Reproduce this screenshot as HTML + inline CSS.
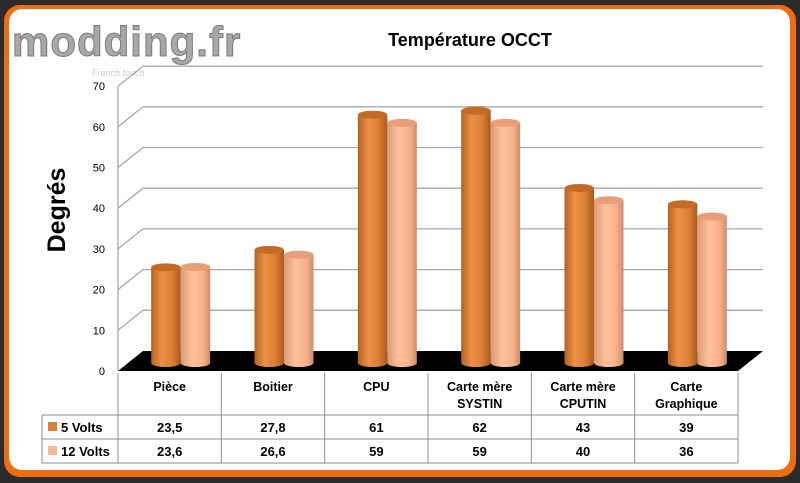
<!DOCTYPE html>
<html><head><meta charset="utf-8"><style>
html,body{margin:0;padding:0;background:#2b2b2b;}
svg{display:block;font-family:"Liberation Sans","DejaVu Sans",sans-serif;}
</style></head><body>
<svg id="c" width="800" height="483" viewBox="0 0 800 483" xmlns="http://www.w3.org/2000/svg">
<defs>
<linearGradient id="g5" x1="0" x2="1" y1="0" y2="0"><stop offset="0" stop-color="#b5621f"/><stop offset="0.35" stop-color="#ec9147"/><stop offset="0.7" stop-color="#dd7f35"/><stop offset="1" stop-color="#a85a1d"/></linearGradient>
<linearGradient id="g12" x1="0" x2="1" y1="0" y2="0"><stop offset="0" stop-color="#d99a76"/><stop offset="0.4" stop-color="#ffc19a"/><stop offset="0.75" stop-color="#f7b18a"/><stop offset="1" stop-color="#c98d6a"/></linearGradient>
</defs>
<rect x="0" y="0" width="800" height="483" fill="#2b2b2b"/>
<rect x="4" y="5" width="792" height="472" rx="16" fill="#f06d0f"/>
<rect x="9" y="9" width="781" height="461" rx="13" fill="#ffffff"/>
<text x="12" y="56" font-size="42" font-weight="bold" fill="#a8a8a8" stroke="#7a7a7a" stroke-width="1" letter-spacing="1">modding.fr</text>
<text x="92" y="76" font-size="9" font-style="italic" fill="#ccc">French touch</text>
<text x="470" y="46" font-size="18" font-weight="bold" text-anchor="middle" fill="#000">Température OCCT</text>
<text transform="translate(65,210) rotate(-90)" font-size="25" font-weight="bold" text-anchor="middle" fill="#000">Degrés</text>
<g id="grid"></g>
<g id="bars"></g>
<g id="table"></g>
</svg>
<script>
const categories = [["Pièce"],["Boitier"],["CPU"],["Carte mère","SYSTIN"],["Carte mère","CPUTIN"],["Carte","Graphique"]];
const series5 = [23.5, 27.8, 61, 62, 43, 39];
const series12 = [23.6, 26.6, 59, 59, 40, 36];
const labels5 = ["23,5","27,8","61","62","43","39"];
const labels12 = ["23,6","26,6","59","59","40","36"];
const yTicks = [0,10,20,30,40,50,60,70];

const NS = "http://www.w3.org/2000/svg";
const X0 = 118, X1 = 738, Y0 = 371, PX = 4.07, DX = 25, DY = 20;
const colW = (X1 - X0) / categories.length;
const yFront = v => Y0 - v * PX;
const yBar = v => 363 - v * PX;
const xCat = i => X0 + colW * i;
function mk(tag, attrs, parent){ const e=document.createElementNS(NS,tag); for(const k in attrs) e.setAttribute(k,attrs[k]); parent.appendChild(e); return e; }

const grid = document.getElementById('grid');
const floor = mk('polygon',{points:`${X0},${Y0} ${X1},${Y0} ${X1+DX},${Y0-DY} ${X0+DX},${Y0-DY}`,fill:'#000'},grid);


yTicks.forEach(v=>{
  const yf = yFront(v);
  if (v>0){
    const l = mk('polyline',{points:`${X0},${yf} ${X0+DX},${yf-DY} ${X1+DX},${yf-DY}`,fill:'none',stroke:'#a6a6a6','stroke-width':1.3},grid);
    
    
  }
  const t = mk('text',{x:X0-13,y:yf+4,'font-size':11,'text-anchor':'end',fill:'#000'},grid);
  t.textContent = v;
  
  
});
const ax = mk('line',{x1:X0,y1:Y0,x2:X0,y2:yFront(70),stroke:'#a6a6a6','stroke-width':1.3},grid);



const bars = document.getElementById('bars');
const BW = 29.5, RY = 4;
function cyl(x, v, grad, topCol, name){
  const g = mk('g',{},bars);
  
  
  const yt = yBar(v), yb = 363;
  mk('path',{d:`M${x},${yt} L${x},${yb} A${BW/2},${RY} 0 0 0 ${x+BW},${yb} L${x+BW},${yt} Z`,fill:`url(#${grad})`},g);
  mk('ellipse',{cx:x+BW/2,cy:yt,rx:BW/2,ry:RY,fill:topCol},g);
}
categories.forEach((c,i)=>{
  const cx = xCat(i) + colW/2 + 11;
  cyl(cx - BW, series5[i], 'g5', '#c46a25', 'bar-5v-'+i);
  cyl(cx, series12[i], 'g12', '#e89f78', 'bar-12v-'+i);
});

const tb = document.getElementById('table');
const R0=373, R1=415, R2=439, R3=463, LX=42;
function ln(x1,y1,x2,y2,name){ const l=mk('line',{x1,y1,x2,y2,stroke:'#8c8c8c','stroke-width':1},tb);   }
ln(X0,R0,X0,R3,'table-line');
ln(LX,R1,X1,R1,'table-line');
ln(LX,R2,X1,R2,'table-line');
ln(LX,R3,X1,R3,'table-line');
ln(LX,R1,LX,R3,'table-line');
categories.forEach((c,i)=>{
  const x = xCat(i+1);
  ln(x,R0,x,R3,'table-line');
  const cx = xCat(i)+colW/2;
  c.forEach((s,j)=>{
    const t = mk('text',{x:cx,y:R0+18+j*17,'font-size':12.5,'font-weight':'bold','text-anchor':'middle'},tb);
    t.textContent = s;
    
    
  });
  const a = mk('text',{x:cx,y:R1+17,'font-size':13,'font-weight':'bold','text-anchor':'middle'},tb);
  a.textContent = labels5[i];
  
  
  const b = mk('text',{x:cx,y:R2+17,'font-size':13,'font-weight':'bold','text-anchor':'middle'},tb);
  b.textContent = labels12[i];
  
  
});
[["5 Volts","#d9803a",R1],["12 Volts","#f6b896",R2]].forEach((s,k)=>{
  const r = mk('rect',{x:48,y:s[2]+7,width:9,height:9,fill:s[1]},tb);
  
  
  const t = mk('text',{x:61,y:s[2]+17,'font-size':13,'font-weight':'bold'},tb);
  t.textContent = s[0];
  
  
});
</script>
</body></html>
